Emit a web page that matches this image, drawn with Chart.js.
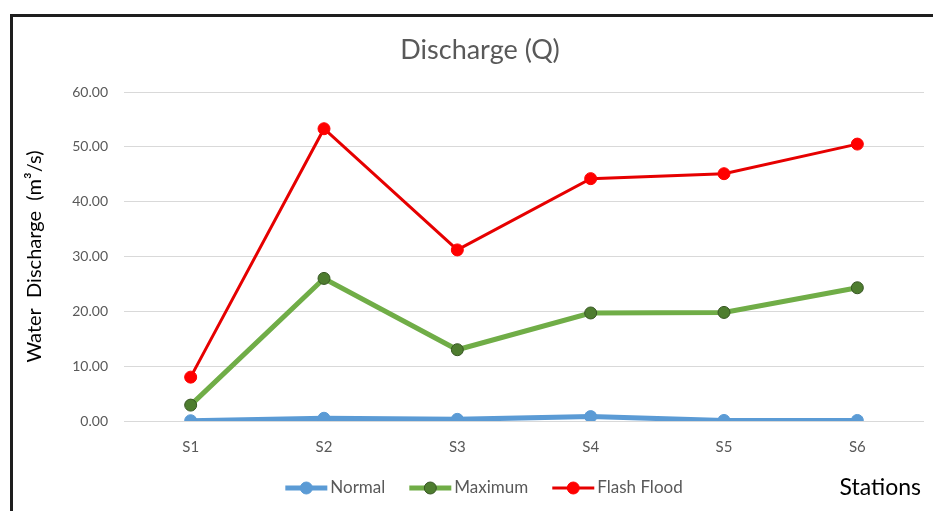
<!DOCTYPE html>
<html>
<head>
<meta charset="utf-8">
<script src="https://cdn.jsdelivr.net/npm/chart.js@4/dist/chart.umd.min.js"></script>
<style>
  html, body { margin: 0; padding: 0; background: #ffffff; }
  #wrap { position: relative; width: 933px; height: 511px; overflow: hidden; }
  #frame { position: absolute; left: 10px; top: 14px; width: 940px; height: 520px;
           border-top: 3px solid #1e1e1e; border-left: 3px solid #1e1e1e; box-sizing: border-box; }
  canvas { position: absolute; left: 0; top: 0; }
</style>
</head>
<body>
<div id="wrap">
  <div id="frame"></div>
  <canvas id="c" width="933" height="511"></canvas>
</div>
<script>
// Discharge per station (m³/s)
const stations = ['S1', 'S2', 'S3', 'S4', 'S5', 'S6'];
const normalQ = [0.05, 0.5, 0.3, 0.8, 0.1, 0.1];
const maximumQ = [2.9, 26.0, 13.0, 19.7, 19.8, 24.3];
const flashFloodQ = [8.0, 53.3, 31.2, 44.2, 45.1, 50.5];
const yTicks = [0, 10, 20, 30, 40, 50, 60];

const FONT = 'Lato, "Open Sans", sans-serif';
const GREY = '#595959';

// Legend row (line + marker + label) and the "Stations" caption under the plot
const footer = {
  id: 'footer',
  afterDraw(chart) {
    const ctx = chart.ctx;
    const y = 488;
    ctx.save();
    ctx.font = '17px ' + FONT;
    ctx.textBaseline = 'middle';
    const lineLen = 42, gapText = 3, gapItem = 24;
    const ds = chart.data.datasets;
    let total = 0;
    ds.forEach((d, i) => {
      total += lineLen + gapText + ctx.measureText(d.label).width;
      if (i < ds.length - 1) total += gapItem;
    });
    let x = 484 - total / 2;
    ds.forEach(d => {
      ctx.strokeStyle = d.borderColor;
      ctx.lineWidth = d.borderWidth;
      ctx.beginPath();
      ctx.moveTo(x, y);
      ctx.lineTo(x + lineLen, y);
      ctx.stroke();
      ctx.beginPath();
      ctx.arc(x + lineLen / 2, y, d.pointRadius, 0, Math.PI * 2);
      ctx.fillStyle = d.pointBackgroundColor;
      ctx.fill();
      ctx.lineWidth = d.pointBorderWidth;
      ctx.strokeStyle = d.pointBorderColor;
      ctx.stroke();
      x += lineLen + gapText;
      ctx.fillStyle = GREY;
      ctx.textAlign = 'left';
      ctx.fillText(d.label, x, y);
      x += ctx.measureText(d.label).width + gapItem;
    });
    ctx.font = '23px ' + FONT;
    ctx.fillStyle = '#000000';
    ctx.textAlign = 'right';
    ctx.fillText('Stations', 921, y);
    ctx.restore();
  }
};

new Chart(document.getElementById('c'), {
  type: 'line',
  data: {
    labels: stations,
    datasets: [
      {
        label: 'Normal', data: normalQ,
        borderColor: '#5b9bd5', borderWidth: 5,
        pointRadius: 6, pointBackgroundColor: '#5b9bd5',
        pointBorderColor: '#5b9bd5', pointBorderWidth: 1
      },
      {
        label: 'Maximum', data: maximumQ,
        borderColor: '#70ad47', borderWidth: 5,
        pointRadius: 6, pointBackgroundColor: '#4e7d2f',
        pointBorderColor: '#375623', pointBorderWidth: 1
      },
      {
        label: 'Flash Flood', data: flashFloodQ,
        borderColor: '#e60000', borderWidth: 3,
        pointRadius: 6, pointBackgroundColor: '#ff0000',
        pointBorderColor: '#ff0000', pointBorderWidth: 1
      }
    ]
  },
  options: {
    responsive: false,
    animation: false,
    layout: { padding: { left: 0, top: 92, right: 9, bottom: 0 } },
    plugins: {
      legend: { display: false },
      tooltip: { enabled: false },
      title: { display: false }
    },
    scales: {
      x: {
        offset: true,
        grid: { display: false },
        border: { display: false },
        ticks: { color: GREY, font: { family: FONT, size: 15 }, padding: 9 },
        afterFit(scale) { scale.height = 90; }
      },
      y: {
        min: 0, max: 60,
        afterBuildTicks(scale) { scale.ticks = yTicks.map(v => ({ value: v })); },
        grid: { color: '#d9d9d9', lineWidth: 1, drawTicks: false },
        border: { display: false },
        ticks: {
          color: GREY, font: { family: FONT, size: 14 }, padding: 16,
          callback: v => Number(v).toFixed(2)
        },
        title: {
          display: true, text: 'Water  Discharge  (m³/s)', color: '#000000',
          font: { family: FONT, size: 20 }, padding: { top: 23, bottom: 0 }
        },
        afterFit(scale) { scale.width = 124; }
      }
    }
  },
  plugins: [footer, {
    id: 'heading',
    afterDraw(chart) {
      const ctx = chart.ctx;
      ctx.save();
      ctx.font = '27px ' + FONT;
      ctx.fillStyle = GREY;
      ctx.textAlign = 'center';
      ctx.textBaseline = 'middle';
      ctx.fillText('Discharge (Q)', 480, 50);
      ctx.restore();
    }
  }]
});
</script>
</body>
</html>
